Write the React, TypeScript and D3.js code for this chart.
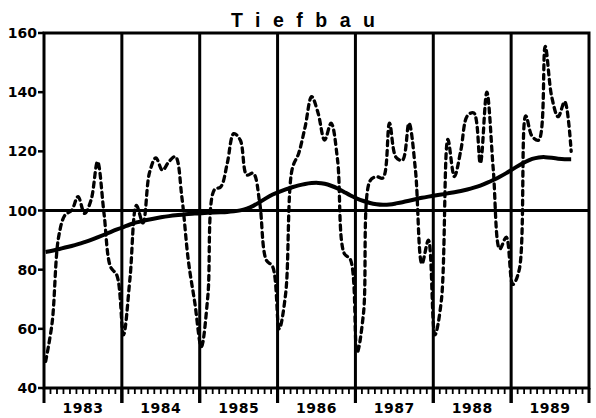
import { useMemo } from "react";
import * as d3 from "d3";

const WIDTH = 596;
const HEIGHT = 418;
const MARGIN = { top: 33, right: 7, bottom: 30, left: 44 };

const YEARS = [1983, 1984, 1985, 1986, 1987, 1988, 1989];
const Y_TICKS = [40, 60, 80, 100, 120, 140, 160];

// monthly index values, Jan 1983 .. Oct 1989 (dashed)
const TIEFBAU = [
  49, 62, 91, 98.5, 100, 104.7, 99, 103.5, 116.5, 99, 81, 78,
  58, 77, 101.7, 95.8, 112.7, 117.8, 113.6, 116.5, 118.2, 104.5, 83, 68.7,
  54, 71, 107, 108, 116, 126, 123.8, 112, 112.6, 102.5, 83.3, 81,
  60, 72, 114, 119.3, 128.3, 138.5, 132.9, 123.8, 129.5, 117, 85.6, 83.3,
  52, 65.4, 110, 111.4, 111, 129.5, 118, 117, 129.5, 113.7, 82, 90,
  58, 69.7, 124, 111.5, 120.4, 132, 133, 116, 140, 113.7, 87, 91,
  75, 80, 132, 125, 123.8, 155.5, 138.5, 131.7, 136.8, 120,
];

// smoothed trend (solid)
const TREND = [
  86, 86.4, 86.9, 87.5, 88, 88.6, 89.3, 90, 90.9, 91.8, 92.7, 93.6,
  94.4, 95.3, 96, 96.5, 97, 97.4, 97.8, 98.1, 98.4, 98.6, 98.8, 99,
  99.1, 99.2, 99.3, 99.4, 99.5, 99.7, 100, 100.6, 101.5, 102.8, 104.2, 105.5,
  106.3, 107.1, 107.9, 108.5, 109, 109.3, 109.4, 109.1, 108.4, 107.5, 106.3, 105,
  104, 103.2, 102.5, 102.1, 101.9, 102, 102.4, 102.8, 103.3, 103.8, 104.3, 104.7,
  105.1, 105.4, 105.8, 106.2, 106.6, 107.1, 107.7, 108.4, 109.3, 110.3, 111.4, 112.6,
  114, 115.3, 116.5, 117.5, 118, 118.1, 117.8, 117.5, 117.3, 117.3,
];

const FONT = "'DejaVu Sans', sans-serif";

export default function App() {
  const boundsWidth = WIDTH - MARGIN.left - MARGIN.right;
  const boundsHeight = HEIGHT - MARGIN.top - MARGIN.bottom;

  const xScale = useMemo(
    () => d3.scaleLinear().domain([1983, 1990]).range([0, boundsWidth]),
    [boundsWidth]
  );
  const yScale = useMemo(
    () => d3.scaleLinear().domain([40, 160]).range([boundsHeight, 0]),
    [boundsHeight]
  );

  // month i sits a little after the start of its month
  const monthX = (i: number) => xScale(1983 + (i + 0.25) / 12);

  const lineGen = d3
    .line<number>()
    .x((_, i) => monthX(i))
    .y((d) => yScale(d))
    .curve(d3.curveCatmullRom.alpha(0.5));

  const trendGen = d3
    .line<number>()
    .x((_, i) => monthX(i))
    .y((d) => yScale(d))
    .curve(d3.curveBasis);

  const monthTicks = d3.range(0, 7 * 12 + 1).map((i) => 1983 + i / 12);

  return (
    <svg width={WIDTH} height={HEIGHT} style={{ display: "block", position: "absolute", left: 0, top: 0 }}>
      <rect width={WIDTH} height={HEIGHT} fill="#fff" />
      <text
        x={231}
        y={27}
        fontFamily="'Liberation Sans', Arial, sans-serif"
        fontWeight="bold"
        fontSize={19.5}
        letterSpacing={12.5}
      >
        Tiefbau
      </text>
      <g transform={`translate(${MARGIN.left},${MARGIN.top})`}>
        {/* year separators */}
        {YEARS.slice(1).map((yr) => (
          <line
            key={yr}
            x1={xScale(yr)}
            x2={xScale(yr)}
            y1={0}
            y2={boundsHeight + 15}
            stroke="#000"
            strokeWidth={3}
          />
        ))}
        {/* reference line at 100 */}
        <line x1={0} x2={boundsWidth} y1={yScale(100)} y2={yScale(100)} stroke="#000" strokeWidth={3} />

        <path
          d={lineGen(TIEFBAU) ?? ""}
          fill="none"
          stroke="#000"
          strokeWidth={3.3}
          strokeDasharray="5,4.5"
          strokeLinecap="round"
        />
        <path d={trendGen(TREND) ?? ""} fill="none" stroke="#000" strokeWidth={4} />

        {/* frame */}
        <rect x={0} y={0} width={boundsWidth} height={boundsHeight} fill="none" stroke="#000" strokeWidth={3} />

        {/* month ticks */}
        {monthTicks.map((t, i) => (
          <line
            key={i}
            x1={xScale(t)}
            x2={xScale(t)}
            y1={boundsHeight}
            y2={boundsHeight + (i % 12 === 0 ? 15 : 6)}
            stroke="#000"
            strokeWidth={i % 12 === 0 ? 3 : 1.8}
          />
        ))}
        {YEARS.map((yr) => (
          <text
            key={yr}
            x={xScale(yr + 0.5)}
            y={boundsHeight + 25}
            textAnchor="middle"
            fontFamily={FONT}
            fontWeight="bold"
            fontSize={14}
            letterSpacing={0.5}
          >
            {yr}
          </text>
        ))}

        {/* y axis */}
        {Y_TICKS.map((v) => (
          <g key={v} transform={`translate(0,${yScale(v)})`}>
            <line x1={-6} x2={0} stroke="#000" strokeWidth={2.5} />
            <text
              x={-7}
              dy="0.36em"
              textAnchor="end"
              fontFamily={FONT}
              fontWeight="bold"
              fontSize={14}
            >
              {v}
            </text>
          </g>
        ))}
      </g>
    </svg>
  );
}
